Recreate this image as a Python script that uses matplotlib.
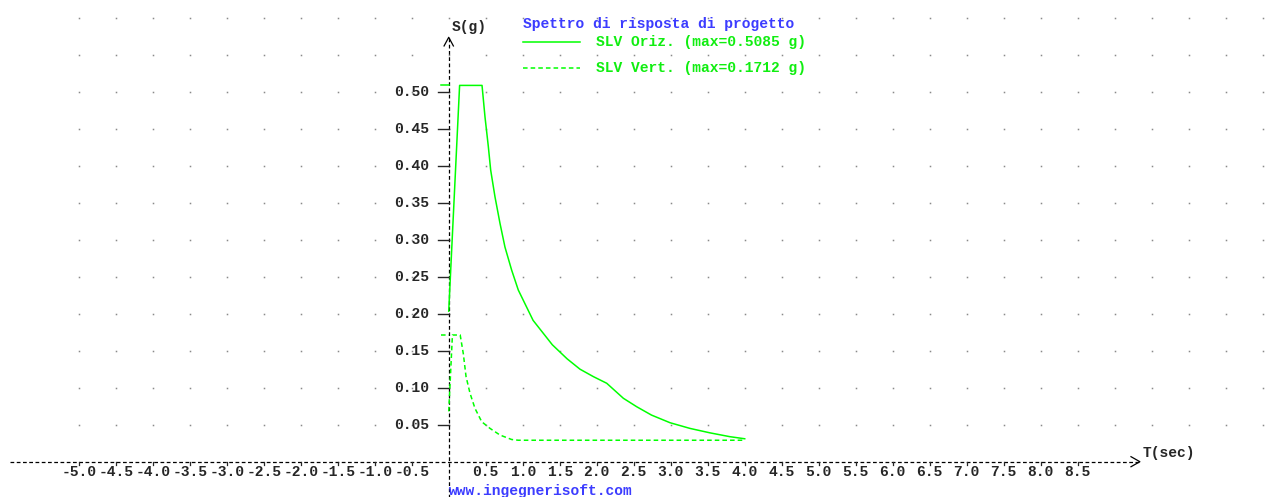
import matplotlib.pyplot as plt
import numpy as np

# spectrum values
T_oriz = [0.0, 0.147, 0.45, 0.49, 0.535, 0.567, 0.625, 0.693, 0.76, 0.85, 0.94,
          1.14, 1.40, 1.60, 1.774, 1.954, 2.135, 2.36, 2.54, 2.74, 2.99, 3.26,
          3.53, 3.80, 4.0]
S_oriz = [0.2034, 0.5085, 0.5085, 0.466, 0.426, 0.394, 0.358, 0.322, 0.290, 0.259, 0.232,
          0.191, 0.158, 0.139, 0.125, 0.115, 0.106, 0.0857, 0.0743, 0.063, 0.0527, 0.045,
          0.039, 0.0338, 0.031]

T_vert = [0.0, 0.05, 0.155, 0.197, 0.234, 0.288, 0.355, 0.446, 0.558, 0.693, 0.85, 0.94, 4.0]
S_vert = [0.068, 0.1712, 0.1712, 0.146, 0.115, 0.0924, 0.072, 0.054, 0.045, 0.036, 0.030,
          0.029, 0.029]

max_oriz = 0.5085
max_vert = 0.1712

x_ticks = [-5.0, -4.5, -4.0, -3.5, -3.0, -2.5, -2.0, -1.5, -1.0, -0.5,
           0.5, 1.0, 1.5, 2.0, 2.5, 3.0, 3.5, 4.0, 4.5, 5.0, 5.5, 6.0, 6.5, 7.0, 7.5, 8.0, 8.5]
y_ticks = [0.05, 0.10, 0.15, 0.20, 0.25, 0.30, 0.35, 0.40, 0.45, 0.50]

grid_x = np.arange(-5.0, 11.01, 0.5)
grid_y = np.arange(0.05, 0.601, 0.05)

GREEN = '#00ff00'
BLUE = '#3c3cff'
DARK = '#262626'
FONT = dict(family='Liberation Mono', fontweight='bold', fontsize=10.5)

fig = plt.figure(figsize=(12.69, 4.97), dpi=100)
ax = fig.add_axes([0, 0, 1, 1])
ax.set_xlim(-6.064, 11.085)
ax.set_ylim(-0.0477, 0.6239)
ax.axis('off')

# dotted background grid
gx, gy = np.meshgrid(grid_x, grid_y)
ax.plot(gx.ravel(), gy.ravel(), ls='none', marker='s', ms=1.1, mec='none', color='#8a8a8a')

# axes with arrows
ax.plot([-5.93, 9.33], [0, 0], color='black', lw=0.9, ls=(0, (3, 2)))
ax.plot([9.22, 9.34, 9.22], [0.0068, 0, -0.0068], color='black', lw=0.9)
ax.plot([0, 0], [-0.05, 0.572], color='black', lw=0.9, ls=(0, (3, 2)))
ax.plot([-0.063, 0, 0.063], [0.5618, 0.5735, 0.5618], color='black', lw=0.9)

# ticks and labels
for t in x_ticks:
    ax.plot([t, t], [0, -0.004], color=DARK, lw=0.9)
    ax.text(t, -0.0135, '%.1f' % t, ha='center', va='center', color=DARK, **FONT)
for s in y_ticks:
    ax.plot([-0.15, 0], [s, s], color=DARK, lw=1.0)
    ax.text(-0.27, s, '%.2f' % s, ha='right', va='center', color=DARK, **FONT)

ax.text(0.04, 0.587, 'S(g)', ha='left', va='center', color=DARK, **FONT)
ax.text(9.38, 0.0114, 'T(sec)', ha='left', va='center', color=DARK, **FONT)
ax.text(0.0, -0.039, 'www.ingegnerisoft.com', ha='left', va='center', color=BLUE, **FONT)

# spectra
ax.plot(T_oriz, S_oriz, color=GREEN, lw=1.1)
ax.plot([-0.1, 0], [max_oriz, max_oriz], color=GREEN, lw=1.1)
ax.plot(T_vert, S_vert, color=GREEN, lw=1.1, ls=(0, (3, 2)))
ax.plot([-0.11, 0], [max_vert, max_vert], color=GREEN, lw=1.1, ls=(0, (3, 2)))

# legend
ax.text(1.0, 0.592, 'Spettro di risposta di progetto', ha='left', va='center', color=BLUE, **FONT)
ax.plot([1.0, 1.78], [0.5667, 0.5667], color=GREEN, lw=1.1)
ax.text(1.99, 0.5667, 'SLV Oriz. (max=%.4f g)' % max_oriz, ha='left', va='center', color='#10ee10', **FONT)
ax.plot([1.0, 1.78], [0.5316, 0.5316], color=GREEN, lw=1.1, ls=(0, (3, 2)))
ax.text(1.99, 0.5316, 'SLV Vert. (max=%.4f g)' % max_vert, ha='left', va='center', color='#10ee10', **FONT)

fig.savefig('out.png', dpi=100)
